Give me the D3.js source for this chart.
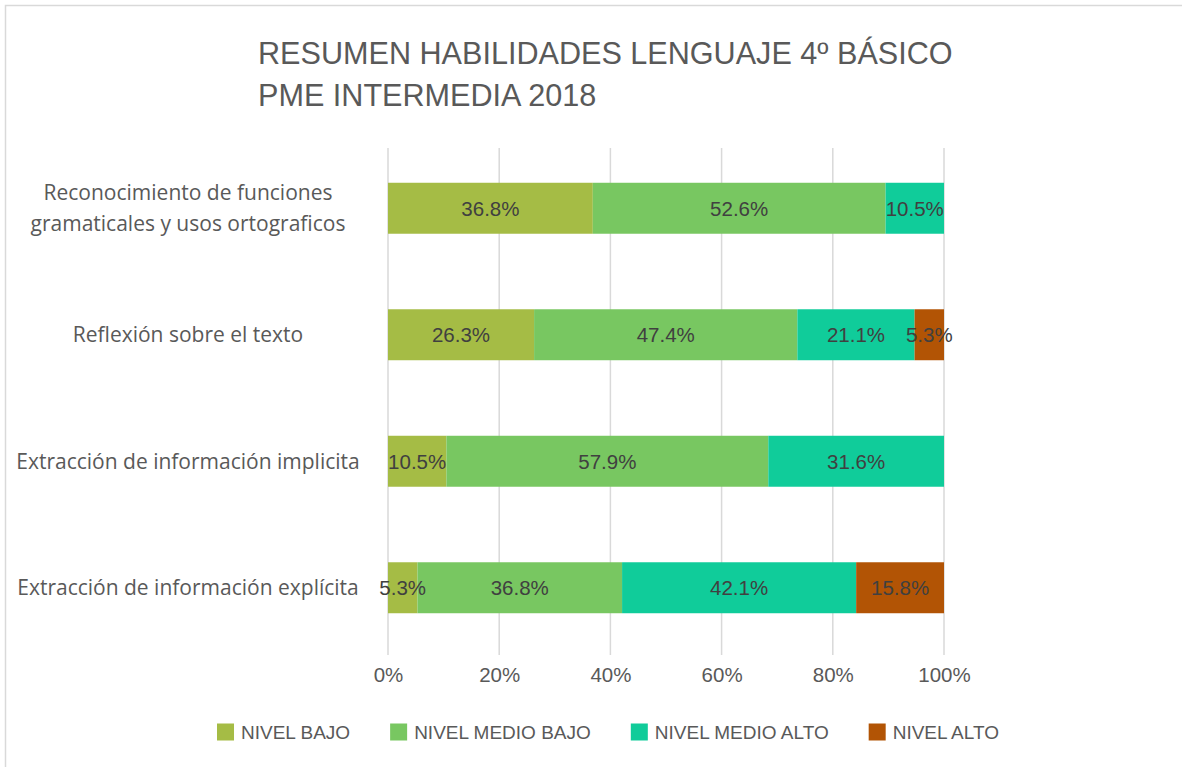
<!DOCTYPE html>
<meta charset="utf-8">
<style>
    html, body {
        margin: 0;
        background: white;
    }

    .title {
        font-family: "Liberation Sans", Arial, sans-serif;
        font-size: 30.6px;
        fill: #595959;
    }

    .cat-label {
        font-family: "Open Sans", sans-serif;
        font-size: 21px;
        fill: #595959;
    }

    .val-label {
        font-family: "Liberation Sans", Arial, sans-serif;
        font-size: 20.5px;
        fill: #404040;
    }

    .tick-label {
        font-family: "Liberation Sans", Arial, sans-serif;
        font-size: 20.5px;
        fill: #595959;
    }

    .legend text {
        font-family: "Liberation Sans", Arial, sans-serif;
        font-size: 19px;
        fill: #595959;
    }

    .grid line {
        stroke: #d9d9d9;
        stroke-width: 1.5px;
    }
</style>
<div id="chart"></div>
<script src="https://cdnjs.cloudflare.com/ajax/libs/d3/7.8.5/d3.min.js"></script>
<script>
    // chart data
    var categories = [
        "Reconocimiento de funciones gramaticales y usos ortograficos",
        "Reflexión sobre el texto",
        "Extracción de información implicita",
        "Extracción de información explícita"
    ];
    var seriesNames = ["NIVEL BAJO", "NIVEL MEDIO BAJO", "NIVEL MEDIO ALTO", "NIVEL ALTO"];
    var nivelBajo = [36.8, 26.3, 10.5, 5.3];
    var nivelMedioBajo = [52.6, 47.4, 57.9, 36.8];
    var nivelMedioAlto = [10.5, 21.1, 31.6, 42.1];
    var nivelAlto = [0, 5.3, 0, 15.8];
    var tickValues = [0, 0.2, 0.4, 0.6, 0.8, 1];
    var titleLines = ["RESUMEN HABILIDADES LENGUAJE 4º BÁSICO", "PME INTERMEDIA 2018"];

    var colors = ["#a5bc45", "#78c761", "#10cc9a", "#b25405"];

    var width = 1182, height = 767;

    var svg = d3.select("#chart")
        .append("svg")
        .attr("width", width)
        .attr("height", height);

    // light chart frame (only top and left edges fall inside the window)
    svg.append("rect")
        .attr("x", 5.5).attr("y", 5.5)
        .attr("width", width + 20).attr("height", height + 20)
        .attr("fill", "white")
        .attr("stroke", "#d9d9d9")
        .attr("stroke-width", 1.5);

    // title
    svg.append("g").selectAll("text")
        .data(titleLines)
        .enter().append("text")
        .attr("class", "title")
        .attr("x", 258)
        .attr("y", function(d, i) { return 64 + i * 42; })
        .text(function(d) { return d; });

    // build rows and stack them
    var series = [nivelBajo, nivelMedioBajo, nivelMedioAlto, nivelAlto];
    var rows = categories.map(function(c, i) {
        var row = { category: c };
        seriesNames.forEach(function(s, j) { row[s] = series[j][i]; });
        return row;
    });
    var stacked = d3.stack()
        .keys(seriesNames)
        .offset(d3.stackOffsetExpand)(rows);

    var x = d3.scaleLinear().domain([0, 1]).range([388, 944]);
    var y = d3.scaleBand()
        .domain(categories)
        .range([145, 651])
        .paddingInner(0.597)
        .paddingOuter(0.2985);

    // vertical gridlines
    svg.append("g")
        .attr("class", "grid")
        .selectAll("line")
        .data(tickValues)
        .enter().append("line")
        .attr("x1", function(d) { return x(d); })
        .attr("x2", function(d) { return x(d); })
        .attr("y1", 148)
        .attr("y2", 655);

    // bars
    var layer = svg.append("g").selectAll("g")
        .data(stacked)
        .enter().append("g")
        .attr("fill", function(d, i) { return colors[i]; });

    layer.selectAll("rect")
        .data(function(d) { return d; })
        .enter().append("rect")
        .attr("x", function(d) { return x(d[0]); })
        .attr("y", function(d) { return y(d.data.category); })
        .attr("width", function(d) { return x(d[1]) - x(d[0]); })
        .attr("height", y.bandwidth());

    // value labels
    var labels = svg.append("g");
    stacked.forEach(function(s) {
        s.forEach(function(d) {
            var v = d.data[s.key];
            if (!v) return;
            labels.append("text")
                .attr("class", "val-label")
                .attr("text-anchor", "middle")
                .attr("x", x((d[0] + d[1]) / 2))
                .attr("y", y(d.data.category) + y.bandwidth() / 2)
                .attr("dy", "0.36em")
                .text(d3.format(".1f")(v) + "%");
        });
    });

    // category labels, wrapped when too long
    var catG = svg.append("g");
    categories.forEach(function(c) {
        var t = catG.append("text")
            .attr("class", "cat-label")
            .attr("text-anchor", "middle")
            .attr("x", 188);
        var words = c.split(" "), lines = [], line = [];
        words.forEach(function(w) {
            line.push(w);
            t.text(line.join(" "));
            if (t.node().getComputedTextLength() > 350 && line.length > 1) {
                line.pop();
                lines.push(line.join(" "));
                line = [w];
            }
        });
        lines.push(line.join(" "));
        t.text(null);
        var cy = y(c) + y.bandwidth() / 2;
        lines.forEach(function(l, i) {
            t.append("tspan")
                .attr("x", 188)
                .attr("y", cy + (i - (lines.length - 1) / 2) * 31)
                .attr("dy", "0.36em")
                .text(l);
        });
    });

    // x axis tick labels
    var xAxis = d3.axisBottom(x)
        .tickValues(tickValues)
        .tickFormat(d3.format(".0%"))
        .tickSize(0)
        .tickPadding(0);
    var axisG = svg.append("g")
        .attr("transform", "translate(0,667)")
        .call(xAxis);
    axisG.select(".domain").remove();
    axisG.selectAll("text")
        .attr("class", "tick-label")
        .attr("fill", null)
        .attr("dy", "0.71em");
    axisG.attr("font-family", null).attr("font-size", null);

    // legend
    var gap = 40;
    var legend = svg.append("g").attr("class", "legend");
    var items = legend.selectAll("g")
        .data(seriesNames)
        .enter().append("g");
    items.append("rect")
        .attr("width", 17)
        .attr("height", 17)
        .attr("y", -8.5)
        .attr("fill", function(d, i) { return colors[i]; });
    items.append("text")
        .attr("x", 24)
        .attr("dy", "0.36em")
        .text(function(d) { return d; });
    var offset = 0;
    items.each(function() {
        d3.select(this).attr("transform", "translate(" + offset + ",0)");
        offset += this.getBBox().width + gap;
    });
    offset -= gap;
    legend.attr("transform", "translate(" + (608 - offset / 2) + ",732)");
</script>
